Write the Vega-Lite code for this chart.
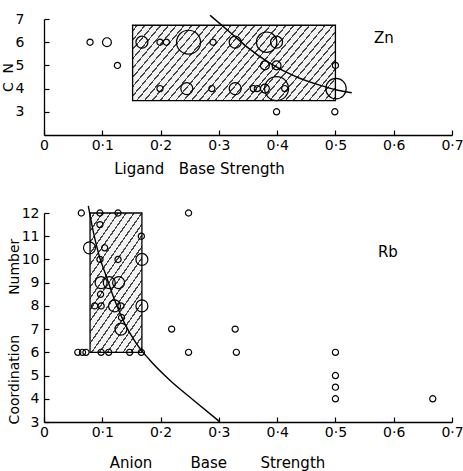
{
  "$schema": "https://vega.github.io/schema/vega-lite/v6.json",
  "autosize": {"type": "none"},
  "padding": {"left": 44, "top": 19, "right": 419, "bottom": 452},
  "bounds": "flush",
  "spacing": 78,
  "config": {
    "view": {"stroke": null},
    "font": "DejaVu Sans",
    "axis": {
      "grid": false, "domainColor": "black", "domainWidth": 1.3,
      "tickColor": "black", "tickWidth": 1.2, "tickSize": -5,
      "labelColor": "black", "labelFontSize": 14, "labelFont": "DejaVu Sans",
      "labelFlush": false, "labelOverlap": false,
      "titleColor": "black", "titleFontSize": 15, "titleFontWeight": "normal", "titleFont": "DejaVu Sans"
    }
  },
  "datasets": {
    "zn_box": [{"x0": 0.152, "x1": 0.5, "y0": 3.48, "y1": 6.73}],
    "zn_pts": [
      {"x": 0.079, "y": 6, "n": 1}, {"x": 0.108, "y": 6, "n": 2}, {"x": 0.126, "y": 5, "n": 1},
      {"x": 0.168, "y": 6, "n": 3}, {"x": 0.199, "y": 6, "n": 1}, {"x": 0.21, "y": 6, "n": 1},
      {"x": 0.248, "y": 6, "n": 5}, {"x": 0.29, "y": 6, "n": 1}, {"x": 0.328, "y": 6, "n": 3},
      {"x": 0.382, "y": 6, "n": 4}, {"x": 0.399, "y": 6, "n": 3}, {"x": 0.379, "y": 5, "n": 2},
      {"x": 0.399, "y": 5, "n": 2}, {"x": 0.5, "y": 5, "n": 1}, {"x": 0.199, "y": 4, "n": 1},
      {"x": 0.245, "y": 4, "n": 3}, {"x": 0.288, "y": 4, "n": 1}, {"x": 0.328, "y": 4, "n": 3},
      {"x": 0.359, "y": 4, "n": 1}, {"x": 0.366, "y": 4, "n": 1}, {"x": 0.379, "y": 4, "n": 2},
      {"x": 0.399, "y": 4, "n": 5}, {"x": 0.413, "y": 4, "n": 1}, {"x": 0.501, "y": 4, "n": 4},
      {"x": 0.399, "y": 3, "n": 1}, {"x": 0.499, "y": 3, "n": 1}
    ],
    "zn_curve": [
      {"x": 0.285, "y": 7.16}, {"x": 0.325, "y": 6.3}, {"x": 0.348, "y": 5.8}, {"x": 0.388, "y": 5.09},
      {"x": 0.433, "y": 4.51}, {"x": 0.473, "y": 4.15}, {"x": 0.502, "y": 3.94}, {"x": 0.528, "y": 3.82}
    ],
    "zn_label": [{"x": 0.583, "y": 6.2, "t": "Zn"}],
    "rb_box": [{"x0": 0.079, "x1": 0.168, "y0": 6, "y1": 12}],
    "rb_pts": [
      {"x": 0.064, "y": 12, "n": 1}, {"x": 0.096, "y": 12, "n": 1}, {"x": 0.127, "y": 12, "n": 1}, {"x": 0.248, "y": 12, "n": 1},
      {"x": 0.096, "y": 11.5, "n": 1}, {"x": 0.167, "y": 11, "n": 1}, {"x": 0.078, "y": 10.5, "n": 3}, {"x": 0.104, "y": 10.5, "n": 1},
      {"x": 0.096, "y": 10, "n": 1}, {"x": 0.127, "y": 10, "n": 1}, {"x": 0.168, "y": 10, "n": 3},
      {"x": 0.098, "y": 9, "n": 3}, {"x": 0.112, "y": 9, "n": 3}, {"x": 0.128, "y": 9, "n": 3},
      {"x": 0.097, "y": 8.5, "n": 1}, {"x": 0.087, "y": 8, "n": 1}, {"x": 0.098, "y": 8, "n": 1},
      {"x": 0.121, "y": 8, "n": 3}, {"x": 0.132, "y": 8, "n": 1}, {"x": 0.168, "y": 8, "n": 3},
      {"x": 0.133, "y": 7.5, "n": 1}, {"x": 0.132, "y": 7, "n": 3}, {"x": 0.219, "y": 7, "n": 1}, {"x": 0.328, "y": 7, "n": 1},
      {"x": 0.058, "y": 6, "n": 1}, {"x": 0.066, "y": 6, "n": 1}, {"x": 0.072, "y": 6, "n": 1}, {"x": 0.098, "y": 6, "n": 1},
      {"x": 0.111, "y": 6, "n": 1}, {"x": 0.147, "y": 6, "n": 1}, {"x": 0.167, "y": 6, "n": 1}, {"x": 0.248, "y": 6, "n": 1},
      {"x": 0.33, "y": 6, "n": 1}, {"x": 0.5, "y": 6, "n": 1}, {"x": 0.5, "y": 5, "n": 1}, {"x": 0.5, "y": 4.5, "n": 1},
      {"x": 0.5, "y": 4, "n": 1}, {"x": 0.667, "y": 4, "n": 1}
    ],
    "rb_curve": [
      {"x": 0.076, "y": 12.31}, {"x": 0.085, "y": 11.14}, {"x": 0.095, "y": 10.13}, {"x": 0.107, "y": 9.27},
      {"x": 0.121, "y": 8.26}, {"x": 0.138, "y": 7.26}, {"x": 0.158, "y": 6.4}, {"x": 0.181, "y": 5.68},
      {"x": 0.215, "y": 4.82}, {"x": 0.256, "y": 3.95}, {"x": 0.301, "y": 3.02}
    ],
    "rb_label": [{"x": 0.59, "y": 10.33, "t": "Rb"}]
  },
  "vconcat": [
    {
      "width": 408, "height": 116,
      "layer": [
        {
          "data": {"name": "zn_box"},
          "mark": {"type": "rect", "stroke": "black", "strokeWidth": 1.3,
            "fill": {"gradient": "linear", "x1": 0, "y1": 0, "x2": 1.196, "y2": 0.374, "stops": [
              {"offset": 0, "color": "#f2f2f2"},
              {"offset": 0.0147, "color": "#f2f2f2"}, {"offset": 0.0147, "color": "#444"}, {"offset": 0.0207, "color": "#444"}, {"offset": 0.0207, "color": "#f2f2f2"},
              {"offset": 0.0441, "color": "#f2f2f2"}, {"offset": 0.0441, "color": "#444"}, {"offset": 0.0501, "color": "#444"}, {"offset": 0.0501, "color": "#f2f2f2"},
              {"offset": 0.0735, "color": "#f2f2f2"}, {"offset": 0.0735, "color": "#444"}, {"offset": 0.0795, "color": "#444"}, {"offset": 0.0795, "color": "#f2f2f2"},
              {"offset": 0.1029, "color": "#f2f2f2"}, {"offset": 0.1029, "color": "#444"}, {"offset": 0.1089, "color": "#444"}, {"offset": 0.1089, "color": "#f2f2f2"},
              {"offset": 0.1324, "color": "#f2f2f2"}, {"offset": 0.1324, "color": "#444"}, {"offset": 0.1384, "color": "#444"}, {"offset": 0.1384, "color": "#f2f2f2"},
              {"offset": 0.1618, "color": "#f2f2f2"}, {"offset": 0.1618, "color": "#444"}, {"offset": 0.1678, "color": "#444"}, {"offset": 0.1678, "color": "#f2f2f2"},
              {"offset": 0.1912, "color": "#f2f2f2"}, {"offset": 0.1912, "color": "#444"}, {"offset": 0.1972, "color": "#444"}, {"offset": 0.1972, "color": "#f2f2f2"},
              {"offset": 0.2206, "color": "#f2f2f2"}, {"offset": 0.2206, "color": "#444"}, {"offset": 0.2266, "color": "#444"}, {"offset": 0.2266, "color": "#f2f2f2"},
              {"offset": 0.25, "color": "#f2f2f2"}, {"offset": 0.25, "color": "#444"}, {"offset": 0.256, "color": "#444"}, {"offset": 0.256, "color": "#f2f2f2"},
              {"offset": 0.2794, "color": "#f2f2f2"}, {"offset": 0.2794, "color": "#444"}, {"offset": 0.2854, "color": "#444"}, {"offset": 0.2854, "color": "#f2f2f2"},
              {"offset": 0.3088, "color": "#f2f2f2"}, {"offset": 0.3088, "color": "#444"}, {"offset": 0.3148, "color": "#444"}, {"offset": 0.3148, "color": "#f2f2f2"},
              {"offset": 0.3382, "color": "#f2f2f2"}, {"offset": 0.3382, "color": "#444"}, {"offset": 0.3442, "color": "#444"}, {"offset": 0.3442, "color": "#f2f2f2"},
              {"offset": 0.3676, "color": "#f2f2f2"}, {"offset": 0.3676, "color": "#444"}, {"offset": 0.3736, "color": "#444"}, {"offset": 0.3736, "color": "#f2f2f2"},
              {"offset": 0.3971, "color": "#f2f2f2"}, {"offset": 0.3971, "color": "#444"}, {"offset": 0.4031, "color": "#444"}, {"offset": 0.4031, "color": "#f2f2f2"},
              {"offset": 0.4265, "color": "#f2f2f2"}, {"offset": 0.4265, "color": "#444"}, {"offset": 0.4325, "color": "#444"}, {"offset": 0.4325, "color": "#f2f2f2"},
              {"offset": 0.4559, "color": "#f2f2f2"}, {"offset": 0.4559, "color": "#444"}, {"offset": 0.4619, "color": "#444"}, {"offset": 0.4619, "color": "#f2f2f2"},
              {"offset": 0.4853, "color": "#f2f2f2"}, {"offset": 0.4853, "color": "#444"}, {"offset": 0.4913, "color": "#444"}, {"offset": 0.4913, "color": "#f2f2f2"},
              {"offset": 0.5147, "color": "#f2f2f2"}, {"offset": 0.5147, "color": "#444"}, {"offset": 0.5207, "color": "#444"}, {"offset": 0.5207, "color": "#f2f2f2"},
              {"offset": 0.5441, "color": "#f2f2f2"}, {"offset": 0.5441, "color": "#444"}, {"offset": 0.5501, "color": "#444"}, {"offset": 0.5501, "color": "#f2f2f2"},
              {"offset": 0.5735, "color": "#f2f2f2"}, {"offset": 0.5735, "color": "#444"}, {"offset": 0.5795, "color": "#444"}, {"offset": 0.5795, "color": "#f2f2f2"},
              {"offset": 0.6029, "color": "#f2f2f2"}, {"offset": 0.6029, "color": "#444"}, {"offset": 0.6089, "color": "#444"}, {"offset": 0.6089, "color": "#f2f2f2"},
              {"offset": 0.6324, "color": "#f2f2f2"}, {"offset": 0.6324, "color": "#444"}, {"offset": 0.6384, "color": "#444"}, {"offset": 0.6384, "color": "#f2f2f2"},
              {"offset": 0.6618, "color": "#f2f2f2"}, {"offset": 0.6618, "color": "#444"}, {"offset": 0.6678, "color": "#444"}, {"offset": 0.6678, "color": "#f2f2f2"},
              {"offset": 0.6912, "color": "#f2f2f2"}, {"offset": 0.6912, "color": "#444"}, {"offset": 0.6972, "color": "#444"}, {"offset": 0.6972, "color": "#f2f2f2"},
              {"offset": 0.7206, "color": "#f2f2f2"}, {"offset": 0.7206, "color": "#444"}, {"offset": 0.7266, "color": "#444"}, {"offset": 0.7266, "color": "#f2f2f2"},
              {"offset": 0.75, "color": "#f2f2f2"}, {"offset": 0.75, "color": "#444"}, {"offset": 0.756, "color": "#444"}, {"offset": 0.756, "color": "#f2f2f2"},
              {"offset": 0.7794, "color": "#f2f2f2"}, {"offset": 0.7794, "color": "#444"}, {"offset": 0.7854, "color": "#444"}, {"offset": 0.7854, "color": "#f2f2f2"},
              {"offset": 0.8088, "color": "#f2f2f2"}, {"offset": 0.8088, "color": "#444"}, {"offset": 0.8148, "color": "#444"}, {"offset": 0.8148, "color": "#f2f2f2"},
              {"offset": 0.8382, "color": "#f2f2f2"}, {"offset": 0.8382, "color": "#444"}, {"offset": 0.8442, "color": "#444"}, {"offset": 0.8442, "color": "#f2f2f2"},
              {"offset": 0.8676, "color": "#f2f2f2"}, {"offset": 0.8676, "color": "#444"}, {"offset": 0.8736, "color": "#444"}, {"offset": 0.8736, "color": "#f2f2f2"},
              {"offset": 0.8971, "color": "#f2f2f2"}, {"offset": 0.8971, "color": "#444"}, {"offset": 0.9031, "color": "#444"}, {"offset": 0.9031, "color": "#f2f2f2"},
              {"offset": 0.9265, "color": "#f2f2f2"}, {"offset": 0.9265, "color": "#444"}, {"offset": 0.9325, "color": "#444"}, {"offset": 0.9325, "color": "#f2f2f2"},
              {"offset": 0.9559, "color": "#f2f2f2"}, {"offset": 0.9559, "color": "#444"}, {"offset": 0.9619, "color": "#444"}, {"offset": 0.9619, "color": "#f2f2f2"},
              {"offset": 0.9853, "color": "#f2f2f2"}, {"offset": 0.9853, "color": "#444"}, {"offset": 0.9913, "color": "#444"}, {"offset": 0.9913, "color": "#f2f2f2"},
              {"offset": 1, "color": "#f2f2f2"}
            ]}
          },
          "encoding": {
            "x": {"field": "x0", "type": "quantitative",
              "scale": {"domain": [0, 0.7], "nice": false, "zero": false},
              "axis": {"values": [0, 0.1, 0.2, 0.3, 0.4, 0.5, 0.6, 0.7], "tickCount": 20, "labelPadding": 8, "labelOverlap": false,
                "labelExpr": "datum.value == 0 ? '0' : replace(format(datum.value, '.1f'), '.', '·')",
                "title": "Ligand\u00a0\u00a0\u00a0Base\u00a0Strength", "titleX": 155, "titleY": 33,
                "titleAlign": "center", "titleBaseline": "middle", "titleAnchor": null}},
            "x2": {"field": "x1"},
            "y": {"field": "y0", "type": "quantitative",
              "scale": {"domain": [2, 7], "nice": false, "zero": false},
              "axis": {"values": [3, 4, 5, 6, 7], "tickCount": 20, "format": "d", "labelPadding": 25, "labelOverlap": false,
                "title": "C\u00a0\u00a0N", "titleFontSize": 14, "titleX": -36, "titleY": 58,
                "titleAlign": "center", "titleBaseline": "middle", "titleAngle": 270, "titleAnchor": null}},
            "y2": {"field": "y1"}
          }
        },
        {
          "data": {"name": "zn_pts"},
          "mark": {"type": "point", "shape": "circle", "filled": false, "stroke": "black", "strokeWidth": 1.2, "opacity": 1},
          "encoding": {
            "x": {"field": "x", "type": "quantitative"},
            "y": {"field": "y", "type": "quantitative"},
            "size": {"field": "n", "type": "quantitative", "scale": {"type": "threshold", "domain": [1.5, 2.5, 3.5, 4.5], "range": [38, 79, 143, 415, 573]}, "legend": null}
          }
        },
        {
          "data": {"name": "zn_curve"},
          "mark": {"type": "line", "color": "black", "strokeWidth": 1.4, "interpolate": "monotone"},
          "encoding": {
            "x": {"field": "x", "type": "quantitative"},
            "y": {"field": "y", "type": "quantitative"}
          }
        },
        {
          "data": {"name": "zn_label"},
          "mark": {"type": "text", "fontSize": 15, "color": "black", "font": "DejaVu Sans"},
          "encoding": {
            "x": {"field": "x", "type": "quantitative"},
            "y": {"field": "y", "type": "quantitative"},
            "text": {"field": "t"}
          }
        }
      ]
    },
    {
      "width": 408, "height": 209,
      "layer": [
        {
          "data": {"name": "rb_box"},
          "mark": {"type": "rect", "stroke": "black", "strokeWidth": 1.3,
            "fill": {"gradient": "linear", "x1": 0, "y1": 0, "x2": 0.636, "y2": 1.194, "stops": [
              {"offset": 0, "color": "#f2f2f2"},
              {"offset": 0.0263, "color": "#f2f2f2"}, {"offset": 0.0263, "color": "#444"}, {"offset": 0.0363, "color": "#444"}, {"offset": 0.0363, "color": "#f2f2f2"},
              {"offset": 0.0789, "color": "#f2f2f2"}, {"offset": 0.0789, "color": "#444"}, {"offset": 0.0889, "color": "#444"}, {"offset": 0.0889, "color": "#f2f2f2"},
              {"offset": 0.1316, "color": "#f2f2f2"}, {"offset": 0.1316, "color": "#444"}, {"offset": 0.1416, "color": "#444"}, {"offset": 0.1416, "color": "#f2f2f2"},
              {"offset": 0.1842, "color": "#f2f2f2"}, {"offset": 0.1842, "color": "#444"}, {"offset": 0.1942, "color": "#444"}, {"offset": 0.1942, "color": "#f2f2f2"},
              {"offset": 0.2368, "color": "#f2f2f2"}, {"offset": 0.2368, "color": "#444"}, {"offset": 0.2468, "color": "#444"}, {"offset": 0.2468, "color": "#f2f2f2"},
              {"offset": 0.2895, "color": "#f2f2f2"}, {"offset": 0.2895, "color": "#444"}, {"offset": 0.2995, "color": "#444"}, {"offset": 0.2995, "color": "#f2f2f2"},
              {"offset": 0.3421, "color": "#f2f2f2"}, {"offset": 0.3421, "color": "#444"}, {"offset": 0.3521, "color": "#444"}, {"offset": 0.3521, "color": "#f2f2f2"},
              {"offset": 0.3947, "color": "#f2f2f2"}, {"offset": 0.3947, "color": "#444"}, {"offset": 0.4047, "color": "#444"}, {"offset": 0.4047, "color": "#f2f2f2"},
              {"offset": 0.4474, "color": "#f2f2f2"}, {"offset": 0.4474, "color": "#444"}, {"offset": 0.4574, "color": "#444"}, {"offset": 0.4574, "color": "#f2f2f2"},
              {"offset": 0.5, "color": "#f2f2f2"}, {"offset": 0.5, "color": "#444"}, {"offset": 0.51, "color": "#444"}, {"offset": 0.51, "color": "#f2f2f2"},
              {"offset": 0.5526, "color": "#f2f2f2"}, {"offset": 0.5526, "color": "#444"}, {"offset": 0.5626, "color": "#444"}, {"offset": 0.5626, "color": "#f2f2f2"},
              {"offset": 0.6053, "color": "#f2f2f2"}, {"offset": 0.6053, "color": "#444"}, {"offset": 0.6153, "color": "#444"}, {"offset": 0.6153, "color": "#f2f2f2"},
              {"offset": 0.6579, "color": "#f2f2f2"}, {"offset": 0.6579, "color": "#444"}, {"offset": 0.6679, "color": "#444"}, {"offset": 0.6679, "color": "#f2f2f2"},
              {"offset": 0.7105, "color": "#f2f2f2"}, {"offset": 0.7105, "color": "#444"}, {"offset": 0.7205, "color": "#444"}, {"offset": 0.7205, "color": "#f2f2f2"},
              {"offset": 0.7632, "color": "#f2f2f2"}, {"offset": 0.7632, "color": "#444"}, {"offset": 0.7732, "color": "#444"}, {"offset": 0.7732, "color": "#f2f2f2"},
              {"offset": 0.8158, "color": "#f2f2f2"}, {"offset": 0.8158, "color": "#444"}, {"offset": 0.8258, "color": "#444"}, {"offset": 0.8258, "color": "#f2f2f2"},
              {"offset": 0.8684, "color": "#f2f2f2"}, {"offset": 0.8684, "color": "#444"}, {"offset": 0.8784, "color": "#444"}, {"offset": 0.8784, "color": "#f2f2f2"},
              {"offset": 0.9211, "color": "#f2f2f2"}, {"offset": 0.9211, "color": "#444"}, {"offset": 0.9311, "color": "#444"}, {"offset": 0.9311, "color": "#f2f2f2"},
              {"offset": 0.9737, "color": "#f2f2f2"}, {"offset": 0.9737, "color": "#444"}, {"offset": 0.9837, "color": "#444"}, {"offset": 0.9837, "color": "#f2f2f2"},
              {"offset": 1, "color": "#f2f2f2"}
            ]}
          },
          "encoding": {
            "x": {"field": "x0", "type": "quantitative",
              "scale": {"domain": [0, 0.7], "nice": false, "zero": false},
              "axis": {"values": [0, 0.1, 0.2, 0.3, 0.4, 0.5, 0.6, 0.7], "tickCount": 20, "labelPadding": 8, "labelOverlap": false,
                "labelExpr": "datum.value == 0 ? '0' : replace(format(datum.value, '.1f'), '.', '·')",
                "title": "Anion\u00a0\u00a0\u00a0\u00a0\u00a0\u00a0\u00a0\u00a0Base\u00a0\u00a0\u00a0\u00a0\u00a0\u00a0\u00a0Strength", "titleX": 173, "titleY": 40,
                "titleAlign": "center", "titleBaseline": "middle", "titleAnchor": null}},
            "x2": {"field": "x1"},
            "y": {"field": "y0", "type": "quantitative",
              "scale": {"domain": [3, 12], "nice": false, "zero": false},
              "axis": {"values": [3, 4, 5, 6, 7, 8, 9, 10, 11, 12], "tickCount": 20, "format": "d", "labelPadding": 10, "labelOverlap": false,
                "title": "Coordination\u00a0\u00a0\u00a0\u00a0\u00a0\u00a0\u00a0\u00a0\u00a0Number", "titleFontSize": 14, "titleX": -30, "titleY": 118,
                "titleAlign": "center", "titleBaseline": "middle", "titleAngle": 270, "titleAnchor": null}},
            "y2": {"field": "y1"}
          }
        },
        {
          "data": {"name": "rb_pts"},
          "mark": {"type": "point", "shape": "circle", "filled": false, "stroke": "black", "strokeWidth": 1.2, "opacity": 1},
          "encoding": {
            "x": {"field": "x", "type": "quantitative"},
            "y": {"field": "y", "type": "quantitative"},
            "size": {"field": "n", "type": "quantitative", "scale": {"type": "threshold", "domain": [1.5, 2.5, 3.5, 4.5], "range": [38, 79, 143, 415, 573]}, "legend": null}
          }
        },
        {
          "data": {"name": "rb_curve"},
          "mark": {"type": "line", "color": "black", "strokeWidth": 1.4, "interpolate": "monotone"},
          "encoding": {
            "x": {"field": "x", "type": "quantitative"},
            "y": {"field": "y", "type": "quantitative"}
          }
        },
        {
          "data": {"name": "rb_label"},
          "mark": {"type": "text", "fontSize": 15, "color": "black", "font": "DejaVu Sans"},
          "encoding": {
            "x": {"field": "x", "type": "quantitative"},
            "y": {"field": "y", "type": "quantitative"},
            "text": {"field": "t"}
          }
        }
      ]
    }
  ]
}
